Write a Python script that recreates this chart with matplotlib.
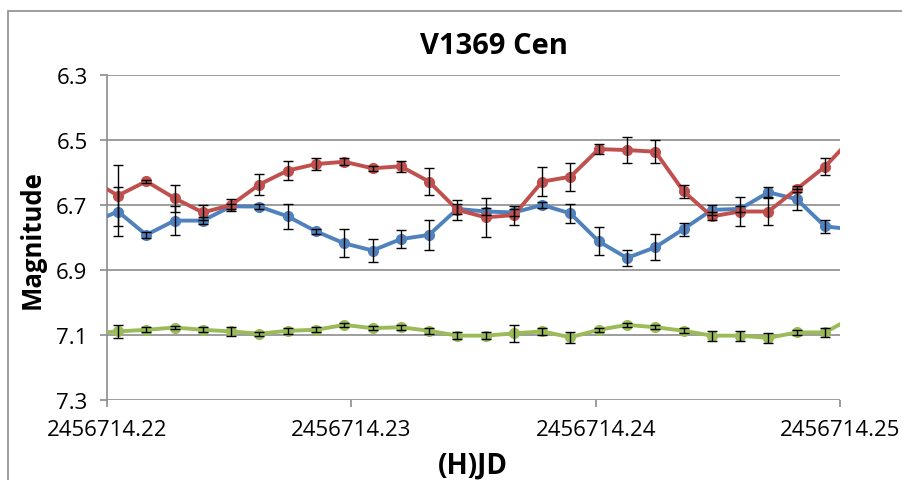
import matplotlib
matplotlib.use("Agg")
import matplotlib.pyplot as plt
from matplotlib.patches import Rectangle
from matplotlib.ticker import FixedLocator

# observation times (H)JD, one point every ~100 s
jd = [2456714.219293, 2456714.220450, 2456714.221607, 2456714.222765,
      2456714.223922, 2456714.225080, 2456714.226237, 2456714.227394,
      2456714.228552, 2456714.229709, 2456714.230867, 2456714.232024,
      2456714.233181, 2456714.234339, 2456714.235496, 2456714.236654,
      2456714.237811, 2456714.238968, 2456714.240126, 2456714.241283,
      2456714.242441, 2456714.243598, 2456714.244755, 2456714.245913,
      2456714.247070, 2456714.248228, 2456714.249385, 2456714.250542]

blue_mag = [6.757, 6.720, 6.792, 6.748, 6.748, 6.704, 6.705, 6.735, 6.781,
            6.818, 6.840, 6.805, 6.792, 6.712, 6.720, 6.723, 6.700, 6.726,
            6.812, 6.863, 6.830, 6.774, 6.715, 6.712, 6.661, 6.682, 6.766,
            6.775]
blue_err = [0.0, 0.074, 0.008, 0.044, 0.010, 0.008, 0.008, 0.039, 0.008,
            0.043, 0.036, 0.028, 0.046, 0.015, 0.010, 0.010, 0.010, 0.030,
            0.043, 0.024, 0.040, 0.020, 0.015, 0.010, 0.015, 0.032, 0.020,
            0.0]

red_mag = [6.620, 6.671, 6.627, 6.679, 6.723, 6.700, 6.637, 6.594, 6.574,
           6.567, 6.587, 6.581, 6.628, 6.715, 6.738, 6.731, 6.628, 6.613,
           6.528, 6.531, 6.536, 6.658, 6.735, 6.720, 6.720, 6.651, 6.582,
           6.490]
red_err = [0.0, 0.095, 0.005, 0.042, 0.024, 0.018, 0.031, 0.030, 0.018,
           0.011, 0.008, 0.017, 0.041, 0.031, 0.060, 0.029, 0.044, 0.043,
           0.015, 0.039, 0.036, 0.020, 0.012, 0.044, 0.042, 0.010, 0.027,
           0.0]

green_mag = [7.095, 7.089, 7.084, 7.077, 7.084, 7.089, 7.096, 7.087, 7.084,
             7.069, 7.079, 7.076, 7.087, 7.102, 7.102, 7.095, 7.089, 7.107,
             7.084, 7.069, 7.076, 7.087, 7.102, 7.102, 7.109, 7.092, 7.092,
             7.045]
green_err = [0.0, 0.020, 0.008, 0.006, 0.008, 0.014, 0.006, 0.010, 0.008,
             0.006, 0.006, 0.008, 0.010, 0.010, 0.010, 0.026, 0.010, 0.017,
             0.006, 0.006, 0.006, 0.008, 0.015, 0.015, 0.015, 0.008, 0.014,
             0.0]

x_ticks = [2456714.22, 2456714.23, 2456714.24, 2456714.25]
x_labels = ["2456714.22", "2456714.23", "2456714.24", "2456714.25"]
y_ticks = [6.3, 6.5, 6.7, 6.9, 7.1, 7.3]
y_labels = ["6.3", "6.5", "6.7", "6.9", "7.1", "7.3"]

plt.rcParams['font.family'] = ['Open Sans', 'DejaVu Sans']

fig = plt.figure(figsize=(9.02, 4.81), dpi=100)
# chart-area border (cropped on the right and bottom)
fig.patches.append(Rectangle((8 / 902, -0.1), 1.2, 1 - 12 / 481 + 0.1,
                             transform=fig.transFigure, fill=False,
                             edgecolor="#8c8c8c", linewidth=1.2))

ax = fig.add_axes([107 / 902, 1 - 401 / 481, 733 / 902, 325 / 481])

series = [(blue_mag, blue_err, "#4F81BD"),
          (red_mag, red_err, "#C0504D"),
          (green_mag, green_err, "#9BBB59")]
for i, (mag, err, col) in enumerate(series):
    ax.plot(jd, mag, color=col, linewidth=2.8, marker="o", markersize=7,
            zorder=3 + i)
for i, (mag, err, col) in enumerate(series):
    ax.errorbar(jd, mag, yerr=err, fmt="none", ecolor="black",
                elinewidth=1.0, capsize=3.5, capthick=1.0, zorder=6)

ax.set_xlim(x_ticks[0], x_ticks[-1])
ax.set_ylim(7.3, 6.3)
ax.xaxis.set_major_locator(FixedLocator(x_ticks))
ax.set_xticklabels(x_labels)
ax.yaxis.set_major_locator(FixedLocator(y_ticks))
ax.set_yticklabels(y_labels)

ax.grid(axis="y", color="#8c8c8c", linewidth=1.2)
ax.set_axisbelow(True)
for s in ["top", "right", "bottom"]:
    ax.spines[s].set_visible(False)
ax.spines["left"].set_color("#8c8c8c")
ax.spines["left"].set_linewidth(1.2)
ax.tick_params(axis="both", direction="out", length=5, width=1.2,
               color="#8c8c8c", labelsize=16, pad=9)

fig.text(494 / 902, 1 - 47 / 481, "V1369 Cen", ha="center", va="center",
         fontsize=21, fontweight="bold")
fig.text(32 / 902, 1 - 240 / 481, "Magnitude", ha="center", va="center",
         rotation=90, fontsize=18.5, fontweight="bold")
fig.text(473 / 902, 1 - 466 / 481, "(H)JD", ha="center", va="center",
         fontsize=20, fontweight="bold")

fig.savefig("out.png", dpi=100)
